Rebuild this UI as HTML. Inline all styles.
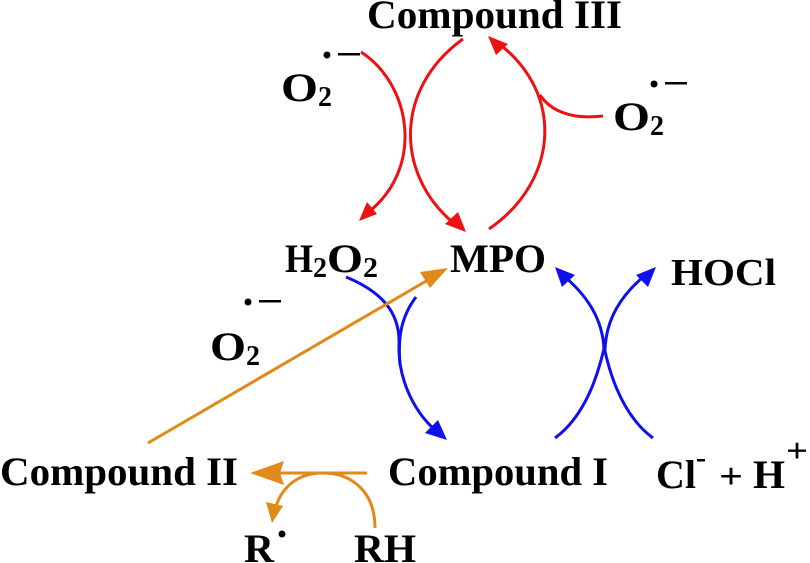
<!DOCTYPE html>
<html><head><style>
html,body{margin:0;padding:0;background:#fff;}
svg{display:block;}
text{font-family:"Liberation Serif","Times New Roman",serif;font-weight:bold;fill:#000;}
</style></head><body>
<svg width="810" height="563" viewBox="0 0 810 563" xmlns="http://www.w3.org/2000/svg">
<g stroke="#ee1111" stroke-width="3" fill="none">
<path d="M361,52 C412,85 425,170 366,214"/>
<path d="M463,39 C392,90 395,180 460,228"/>
<path d="M489,229 C560,180 565,90 494,40"/>
<path d="M603,116 C570,120 550,110 540,95"/>
</g>
<g fill="#ee1111">
<polygon points="359,221 367,202 377,214"/>
<polygon points="466,232 445,224 458,212"/>
<polygon points="488,36 508,44 496,55"/>
</g>
<g stroke="#1010ee" stroke-width="3" fill="none">
<path d="M346,277 C390,295 400,320 399,345 C398,380 415,415 440,434"/>
<path d="M416,297 C400,318 398,340 400,365"/>
<path d="M555,438 C600,405 605,330 605,350 C606,320 620,295 649,272"/>
<path d="M653,438 C608,405 603,330 604,350 C603,320 588,295 559,272"/>
</g>
<g fill="#1010ee">
<polygon points="447,440 425,433 438,420"/>
<polygon points="555,267 575,275 562,287"/>
<polygon points="656,267 648,287 636,275"/>
</g>
<g stroke="#e08a1a" stroke-width="3" fill="none">
<path d="M148,443 L440,273"/>
<path d="M367,473 L262,473"/>
<path d="M375,528 C375,490 350,473 323,473 C295,473 280,490 275,510"/>
</g>
<g fill="#e08a1a">
<polygon points="448,268 430,288 420,272"/>
<polygon points="250,473 284,461 280,473 284,485"/>
<polygon points="272,523 266,502 283,506"/>
</g>
<text x="367" y="28" font-size="40" textLength="255" lengthAdjust="spacingAndGlyphs">Compound III</text>
<text x="281" y="101" font-size="40" textLength="37" lengthAdjust="spacingAndGlyphs">O</text>
<text x="318" y="106" font-size="28" textLength="14" lengthAdjust="spacingAndGlyphs">2</text>
<circle cx="327" cy="55" r="3.5" fill="#000"/><rect x="338" y="53" width="22" height="2.5" fill="#000"/>
<text x="613" y="130" font-size="40" textLength="37" lengthAdjust="spacingAndGlyphs">O</text>
<text x="650" y="135" font-size="28" textLength="14" lengthAdjust="spacingAndGlyphs">2</text>
<circle cx="654" cy="84" r="3.5" fill="#000"/><rect x="665" y="82" width="22" height="2.5" fill="#000"/>
<text x="285" y="272" font-size="40" textLength="28" lengthAdjust="spacingAndGlyphs">H</text>
<text x="313" y="277" font-size="28" textLength="14" lengthAdjust="spacingAndGlyphs">2</text>
<text x="327" y="272" font-size="40" textLength="36" lengthAdjust="spacingAndGlyphs">O</text>
<text x="363" y="277" font-size="28" textLength="15" lengthAdjust="spacingAndGlyphs">2</text>
<text x="450" y="272" font-size="40" textLength="96" lengthAdjust="spacingAndGlyphs">MPO</text>
<text x="671" y="285" font-size="38" textLength="105" lengthAdjust="spacingAndGlyphs">HOCl</text>
<text x="210" y="360" font-size="40" textLength="36" lengthAdjust="spacingAndGlyphs">O</text>
<text x="246" y="365" font-size="28" textLength="14" lengthAdjust="spacingAndGlyphs">2</text>
<circle cx="248" cy="302" r="3.5" fill="#000"/><rect x="259" y="300" width="22" height="2.5" fill="#000"/>
<text x="0" y="485" font-size="40" textLength="238" lengthAdjust="spacingAndGlyphs">Compound II</text>
<text x="388" y="485" font-size="40" textLength="220" lengthAdjust="spacingAndGlyphs">Compound I</text>
<text x="656" y="488" font-size="40" textLength="40" lengthAdjust="spacingAndGlyphs">Cl</text>
<rect x="697" y="459" width="8" height="2.5" fill="#000"/>
<text x="719" y="488" font-size="36" textLength="24" lengthAdjust="spacingAndGlyphs">+</text>
<text x="753" y="488" font-size="40" textLength="32" lengthAdjust="spacingAndGlyphs">H</text>
<text x="786" y="462" font-size="34" textLength="22" lengthAdjust="spacingAndGlyphs">+</text>
<text x="244" y="562" font-size="40" textLength="30" lengthAdjust="spacingAndGlyphs">R</text>
<circle cx="282" cy="534" r="3.5" fill="#000"/>
<text x="354" y="562" font-size="40" textLength="62" lengthAdjust="spacingAndGlyphs">RH</text>
</svg>
</body></html>
